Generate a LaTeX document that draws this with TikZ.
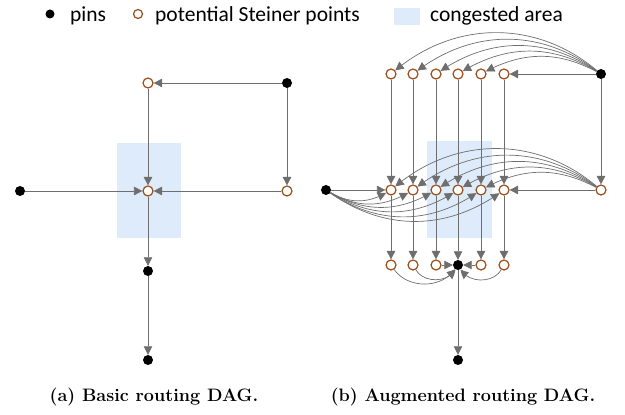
\documentclass[tikz,border=0pt]{standalone}
\usepackage{fontspec}
\newfontfamily\legendfont{Carlito}
\usetikzlibrary{positioning,arrows.meta,bending}

\definecolor{edgegray}{RGB}{110,110,110}
\definecolor{steinerbrown}{RGB}{158,78,26}
\definecolor{congblue}{RGB}{222,235,250}

\tikzset{
  pinnode/.style={circle,fill=black,inner sep=0pt,minimum size=10pt},
  stpnode/.style={circle,draw=steinerbrown,fill=white,line width=1.2pt,inner sep=0pt,minimum size=10pt},
  dagedge/.style={draw=edgegray,line width=0.7pt,-{Triangle[length=8.5pt,width=8.5pt,bend]}},
  legtext/.style={anchor=west,inner sep=0pt,font=\legendfont\fontsize{21.5}{24}\selectfont},
  captext/.style={font=\bfseries\fontsize{18}{21}\selectfont},
}

\begin{document}
\begin{tikzpicture}[x=1pt,y=1pt]
  \useasboundingbox (0,0) rectangle (625,415);
  % legend
  \node[pinnode,minimum size=9pt] (lgpin) at (50,401) {};
  \node[legtext] (lgpintxt) at (70,399) {pins};
  \node[stpnode,minimum size=9pt] (lgstp) at (138,401) {};
  \node[legtext] (lgstptxt) at (155,399) {potential Steiner points};
  \fill[congblue] (394,390) rectangle (420,407);
  \node[legtext] (lgcongtxt) at (430,399) {congested area};

  % congested areas
  \fill[congblue] (117,177) rectangle (181,272);
  \fill[congblue] (427,177) rectangle (492,274);

  % (a) basic DAG
  \node[stpnode] (a1) at (148,332) {};
  \node[pinnode] (a2) at (287,332) {};
  \node[stpnode] (a3) at (148,224) {};
  \node[stpnode] (a4) at (287,224) {};
  \node[pinnode] (a5) at (20,224) {};
  \node[pinnode] (a6) at (148,144) {};
  \node[pinnode] (a7) at (148,55) {};
  \draw[dagedge] (a2) -- (a1);
  \draw[dagedge] (a2) -- (a4);
  \draw[dagedge] (a1) -- (a3);
  \draw[dagedge] (a5) -- (a3);
  \draw[dagedge] (a4) -- (a3);
  \draw[dagedge] (a3) -- (a6);
  \draw[dagedge] (a6) -- (a7);

  % (b) augmented DAG
  \foreach \x [count=\i] in {391,413,436,458,481,504} {
    \node[stpnode] (t\i) at (\x,341) {};
    \node[stpnode] (m\i) at (\x,225) {};
  }
  \foreach \i/\x in {1/391,2/413,3/436,5/481,6/504}
    \node[stpnode] (b\i) at (\x,150) {};
  \node[pinnode] (b4) at (458,150) {};
  \node[pinnode] (tp) at (601,341) {};
  \node[stpnode] (mr) at (601,225) {};
  \node[pinnode] (ml) at (326,225) {};
  \node[pinnode] (bp) at (458,55) {};

  \draw[dagedge] (tp) -- (t6);
  \foreach \i/\b in {1/40,2/37,3/34,4/31,5/28}
    \draw[dagedge] (tp) to[bend right=\b] (t\i);
  \draw[dagedge] (tp) -- (mr);
  \foreach \i in {1,...,6} {
    \draw[dagedge] (t\i) -- (m\i);
    \draw[dagedge] (m\i) -- (b\i);
  }
  \draw[dagedge] (ml) -- (m1);
  \foreach \i/\b in {1/30,2/30,3/30,4/32,5/34,6/35}
    \draw[dagedge] (ml) to[bend right=\b] (m\i);
  \draw[dagedge] (mr) -- (m6);
  \foreach \i/\b in {1/40,2/37,3/34,4/31,5/28}
    \draw[dagedge] (mr) to[bend right=\b] (m\i);
  \draw[dagedge] (b3) -- (b4);
  \draw[dagedge] (b5) -- (b4);
  \draw[dagedge] (b1) to[bend right=55] (b4);
  \draw[dagedge] (b2) to[bend right=60] (b4);
  \draw[dagedge] (b6) to[bend left=60] (b4);
  \draw[dagedge] (b4) -- (bp);

  % captions
  \node[captext] (capa) at (154,18) {(a) Basic routing DAG.};
  \node[captext] (capb) at (463,18) {(b) Augmented routing DAG.};
\end{tikzpicture}
\end{document}
